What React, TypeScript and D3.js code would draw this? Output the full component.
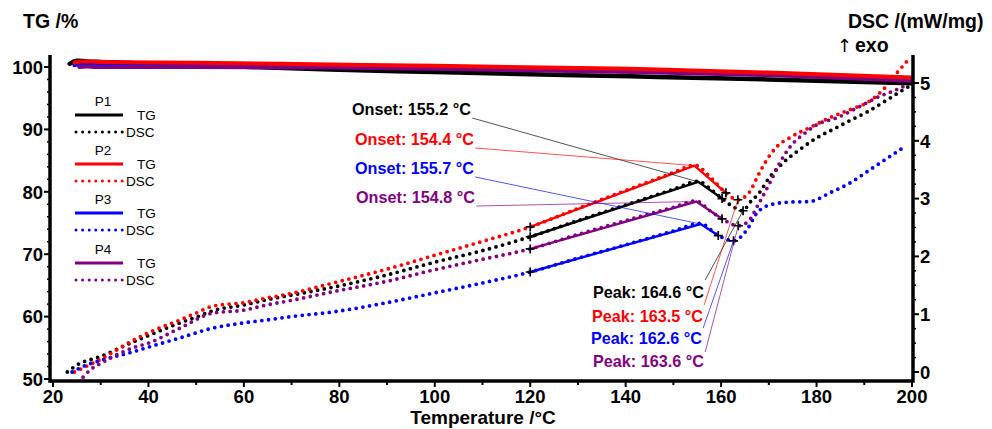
import { useEffect, useRef } from 'react';
import * as d3 from 'd3';

// samples
const samples = ['P1', 'P2', 'P3', 'P4'];
const colors = ['#000000', '#ff0000', '#0000ff', '#800080'];

// TG curves (temperature °C, mass %)
const tgTemps = [
  [23.5, 25, 27, 30, 50, 78, 100, 141, 170, 200],
  [24.5, 26, 28, 30, 50, 78, 100, 141, 170, 200],
  [24.5, 26, 28, 30, 50, 78, 100, 141, 170, 200],
  [25.5, 27, 29, 31, 50, 78, 100, 141, 170, 200],
];
const tgValues = [
  [100.5, 101.0, 100.9, 100.8, 100.3, 99.6, 99.2, 98.5, 98.0, 97.4],
  [100.7, 100.9, 100.9, 100.8, 100.7, 100.4, 100.2, 99.7, 99.1, 98.3],
  [100.3, 100.5, 100.5, 100.4, 100.3, 100.1, 99.9, 99.3, 98.8, 97.9],
  [100.0, 100.1, 100.0, 100.0, 100.0, 99.9, 99.7, 99.2, 98.7, 97.8],
];

// DSC curves (temperature °C, mW/mg)
const dscTemps = [
  [23, 25, 30, 36.8, 40, 46.6, 50, 53.5, 60, 64.8, 70, 80, 90, 100, 110, 120, 130, 140, 150, 155.2, 158, 160.2, 162.5, 164.6, 166, 168, 170, 173, 176.5, 180, 183.5, 187, 190.6, 195, 198.5, 200],
  [24.5, 27, 30, 36.8, 40, 46.6, 50, 53.5, 60, 64.8, 70, 78.7, 90, 100, 110, 120, 130, 140, 150, 154.4, 158, 161, 163.5, 166, 167.5, 169.2, 171.7, 174.5, 178.6, 182.8, 187, 191, 194, 196.9, 199.2],
  [24, 27, 30, 36.8, 40, 46.6, 53.5, 60, 64.8, 70, 78.7, 90, 100, 110, 120, 130, 140, 150, 155.7, 159.4, 162.6, 165.4, 167.5, 170.2, 174.5, 178.6, 182.8, 187, 191.2, 195.4, 198.5],
  [26.3, 28, 30, 36.8, 40, 46.6, 53.5, 60, 64.8, 70, 78.7, 90, 100, 110, 120, 130, 140, 150, 154.8, 157.5, 160.2, 163.6, 165.6, 168, 170.2, 172.3, 174.5, 178, 180.1, 184.3, 188.5, 192.7, 196.9, 199],
];
const dscValues = [
  [0.0, 0.12, 0.27, 0.52, 0.63, 0.85, 0.95, 1.06, 1.16, 1.25, 1.33, 1.49, 1.68, 1.9, 2.1, 2.34, 2.62, 2.89, 3.16, 3.3, 3.15, 3.0, 2.86, 2.79, 2.93, 3.1, 3.35, 3.62, 3.85, 4.05, 4.2, 4.35, 4.5, 4.72, 4.9, 4.97],
  [0.0, 0.1, 0.22, 0.55, 0.68, 0.9, 1.02, 1.14, 1.2, 1.28, 1.36, 1.54, 1.78, 2.02, 2.26, 2.51, 2.83, 3.14, 3.45, 3.58, 3.35, 3.1, 2.98, 3.12, 3.36, 3.62, 3.9, 4.06, 4.23, 4.4, 4.54, 4.68, 4.89, 5.18, 5.4],
  [0.0, 0.12, 0.2, 0.35, 0.43, 0.59, 0.76, 0.85, 0.9, 0.96, 1.04, 1.2, 1.37, 1.54, 1.73, 1.97, 2.2, 2.44, 2.57, 2.36, 2.27, 2.46, 2.75, 2.89, 2.94, 2.95, 3.1, 3.27, 3.5, 3.73, 3.9],
  [-0.09, 0.05, 0.15, 0.42, 0.5, 0.76, 1.02, 1.07, 1.16, 1.24, 1.39, 1.57, 1.77, 1.95, 2.13, 2.38, 2.62, 2.85, 2.96, 2.8, 2.65, 2.53, 2.6, 2.93, 3.27, 3.62, 3.9, 4.16, 4.28, 4.4, 4.57, 4.75, 4.89, 4.97],
];

// onset tangents: start (120 °C), apex at onset, end of falling line
const tangentStart = [2.34, 2.51, 1.73, 2.13];
const onsetTemps = [155.2, 154.4, 155.7, 154.8];
const onsetValues = [3.29, 3.57, 2.56, 2.95];
const dropTemps = [160.2, 161, 159.4, 160.2];
const dropValues = [3.0, 3.1, 2.36, 2.65];

// peaks
const peakTemps = [164.6, 163.5, 162.6, 163.6];
const peakValues = [2.79, 2.98, 2.27, 2.53];

const xTicks = [20, 40, 60, 80, 100, 120, 140, 160, 180, 200];
const tgTicks = [50, 60, 70, 80, 90, 100];
const dscTicks = [0, 1, 2, 3, 4, 5];

const W = 992;
const H = 429;
const FONT = '"Liberation Sans", Arial, sans-serif';

export default function App() {
  const svgRef = useRef<SVGSVGElement>(null);

  useEffect(() => {
    document.body.style.margin = '0';
    const svg = d3.select(svgRef.current);
    svg.selectAll('*').remove();

    const x = d3.scaleLinear().domain([20, 200]).range([53, 912]);
    const yTg = d3.scaleLinear().domain([50, 100]).range([379, 67]);
    const yDsc = d3.scaleLinear().domain([0, 5]).range([372, 83]);

    const left = 50, right = 913, top = 55, bottom = 381;

    // DSC dotted curves
    const dscLine = d3.line<[number, number]>()
      .x(d => x(d[0]))
      .y(d => yDsc(d[1]))
      .curve(d3.curveMonotoneX);

    samples.forEach((s, i) => {
      const pts = dscTemps[i].map((t, j) => [t, dscValues[i][j]] as [number, number]);
      svg.append('path')
        .attr('d', dscLine(pts))
        .attr('fill', 'none')
        .attr('stroke', colors[i])
        .attr('stroke-width', 3.8)
        .attr('stroke-linecap', 'round')
        .attr('stroke-dasharray', '0 6.8');
    });

    // onset tangents
    samples.forEach((s, i) => {
      const pts: [number, number][] = [
        [120, tangentStart[i]],
        [onsetTemps[i], onsetValues[i]],
        [dropTemps[i], dropValues[i]],
      ];
      svg.append('path')
        .attr('d', d3.line<[number, number]>().x(d => x(d[0])).y(d => yDsc(d[1]))(pts))
        .attr('fill', 'none')
        .attr('stroke', colors[i])
        .attr('stroke-width', 2.4);
    });

    // plus markers
    samples.forEach((s, i) => {
      const marks: [number, number][] = [
        [120, tangentStart[i]],
        [dropTemps[i], dropValues[i]],
        [peakTemps[i], peakValues[i]],
      ];
      marks.forEach(m => {
        const cx = x(m[0]), cy = yDsc(m[1]);
        svg.append('path')
          .attr('d', `M${cx - 4.5},${cy}H${cx + 4.5}M${cx},${cy - 4.5}V${cy + 4.5}`)
          .attr('stroke', '#000')
          .attr('stroke-width', 1.7);
      });
    });

    // TG curves
    const tgLine = d3.line<[number, number]>()
      .x(d => x(d[0]))
      .y(d => yTg(d[1]))
      .curve(d3.curveMonotoneX);
    [0, 2, 3, 1].forEach(i => {
      const pts = tgTemps[i].map((t, j) => [t, tgValues[i][j]] as [number, number]);
      svg.append('path')
        .attr('d', tgLine(pts))
        .attr('fill', 'none')
        .attr('stroke', colors[i])
        .attr('stroke-width', i === 0 ? 4.5 : 4)
        .attr('stroke-linecap', 'round');
    });

    // annotations
    const onsetLabelX = [352, 355, 355, 356];
    const onsetLabelY = [115, 145, 174, 203];
    const peakLabelX = [593, 592, 591, 593];
    const peakLabelY = [298, 322, 344, 367];
    const peakLeadY = [280, 305, 328, 352];

    samples.forEach((s, i) => {
      const t = svg.append('text')
        .attr('x', onsetLabelX[i])
        .attr('y', onsetLabelY[i])
        .attr('fill', colors[i])
        .attr('font-family', FONT)
        .attr('font-weight', 'bold')
        .attr('font-size', 16.2)
        .text(`Onset: ${onsetTemps[i].toFixed(1)} °C`);
      const bb = (t.node() as SVGTextElement).getBBox();
      svg.append('line')
        .attr('x1', bb.x + bb.width + 1)
        .attr('y1', onsetLabelY[i] + 3)
        .attr('x2', x(onsetTemps[i]))
        .attr('y2', yDsc(onsetValues[i]))
        .attr('stroke', colors[i])
        .attr('stroke-opacity', 0.75)
        .attr('stroke-width', 0.9);

      const p = svg.append('text')
        .attr('x', peakLabelX[i])
        .attr('y', peakLabelY[i])
        .attr('fill', colors[i])
        .attr('font-family', FONT)
        .attr('font-weight', 'bold')
        .attr('font-size', 16.2)
        .text(`Peak: ${peakTemps[i].toFixed(1)} °C`);
      const pb = (p.node() as SVGTextElement).getBBox();
      svg.append('line')
        .attr('x1', pb.x + pb.width + 1)
        .attr('y1', peakLeadY[i])
        .attr('x2', x(peakTemps[i]))
        .attr('y2', yDsc(peakValues[i]))
        .attr('stroke', colors[i])
        .attr('stroke-opacity', 0.75)
        .attr('stroke-width', 0.9);
    });

    // axes frame
    const axisG = svg.append('g').attr('stroke', '#000');
    axisG.append('line').attr('x1', left).attr('x2', left).attr('y1', top).attr('y2', bottom + 1.75).attr('stroke-width', 3.5);
    axisG.append('line').attr('x1', right).attr('x2', right).attr('y1', top).attr('y2', bottom + 1.75).attr('stroke-width', 3.5);
    axisG.append('line').attr('x1', left).attr('x2', right).attr('y1', bottom).attr('y2', bottom).attr('stroke-width', 3.5);

    // bottom ticks
    d3.range(20, 201, 10).forEach(v => {
      const major = v % 20 === 0;
      axisG.append('line')
        .attr('x1', x(v)).attr('x2', x(v))
        .attr('y1', bottom).attr('y2', bottom + (major ? 6 : 4))
        .attr('stroke-width', 2);
    });
    xTicks.forEach(v => {
      svg.append('text')
        .attr('x', x(v)).attr('y', 403)
        .attr('text-anchor', 'middle')
        .attr('font-family', FONT).attr('font-weight', 'bold').attr('font-size', 18.5)
        .text(v);
    });

    // left ticks
    d3.range(50, 101, 2).forEach(v => {
      const major = v % 10 === 0;
      axisG.append('line')
        .attr('x1', left).attr('x2', left - (major ? 6 : 3))
        .attr('y1', yTg(v)).attr('y2', yTg(v))
        .attr('stroke-width', major ? 2 : 1.5);
    });
    tgTicks.forEach(v => {
      svg.append('text')
        .attr('x', 43).attr('y', yTg(v) + 6.7)
        .attr('text-anchor', 'end')
        .attr('font-family', FONT).attr('font-weight', 'bold').attr('font-size', 18.5)
        .text(v);
    });

    // right ticks
    d3.range(0, 5.01, 0.25).forEach(v => {
      const major = Math.abs(v - Math.round(v)) < 1e-6;
      axisG.append('line')
        .attr('x1', right).attr('x2', right + (major ? 6 : 3))
        .attr('y1', yDsc(v)).attr('y2', yDsc(v))
        .attr('stroke-width', major ? 2 : 1.5);
    });
    dscTicks.forEach(v => {
      svg.append('text')
        .attr('x', 920).attr('y', yDsc(v) + 6.7)
        .attr('font-family', FONT).attr('font-weight', 'bold').attr('font-size', 18.5)
        .text(v);
    });

    // axis titles
    svg.append('text').attr('x', 23).attr('y', 28)
      .attr('font-family', FONT).attr('font-weight', 'bold').attr('font-size', 19.5)
      .text('TG /%');
    svg.append('text').attr('x', 848).attr('y', 28)
      .attr('font-family', FONT).attr('font-weight', 'bold').attr('font-size', 19.5)
      .text('DSC /(mW/mg)');
    svg.append('text').attr('x', 837).attr('y', 52)
      .attr('font-family', '"DejaVu Sans", sans-serif').attr('font-size', 18)
      .text('↑');
    svg.append('text').attr('x', 855).attr('y', 52)
      .attr('font-family', FONT).attr('font-weight', 'bold').attr('font-size', 19.5)
      .text('exo');
    svg.append('text').attr('x', 483).attr('y', 424)
      .attr('text-anchor', 'middle')
      .attr('font-family', FONT).attr('font-weight', 'bold').attr('font-size', 19)
      .text('Temperature /°C');

    // legend
    const legendTop = [101, 150, 199, 249];
    samples.forEach((s, i) => {
      const y0 = legendTop[i];
      svg.append('text').attr('x', 103).attr('y', y0 + 5)
        .attr('text-anchor', 'middle')
        .attr('font-family', FONT).attr('font-size', 13.5)
        .text(s);
      svg.append('line')
        .attr('x1', 75).attr('x2', 123)
        .attr('y1', y0 + 14).attr('y2', y0 + 14)
        .attr('stroke', colors[i]).attr('stroke-width', 3);
      svg.append('text').attr('x', 137).attr('y', y0 + 19)
        .attr('font-family', FONT).attr('font-size', 13.5)
        .text('TG');
      svg.append('line')
        .attr('x1', 76).attr('x2', 123)
        .attr('y1', y0 + 31).attr('y2', y0 + 31)
        .attr('stroke', colors[i]).attr('stroke-width', 3)
        .attr('stroke-linecap', 'round')
        .attr('stroke-dasharray', '0 6.6');
      svg.append('text').attr('x', 126).attr('y', y0 + 36)
        .attr('font-family', FONT).attr('font-size', 13.5)
        .text('DSC');
    });
  }, []);

  return (
    <svg ref={svgRef} width={W} height={H} style={{ display: 'block', background: '#fff' }} />
  );
}
